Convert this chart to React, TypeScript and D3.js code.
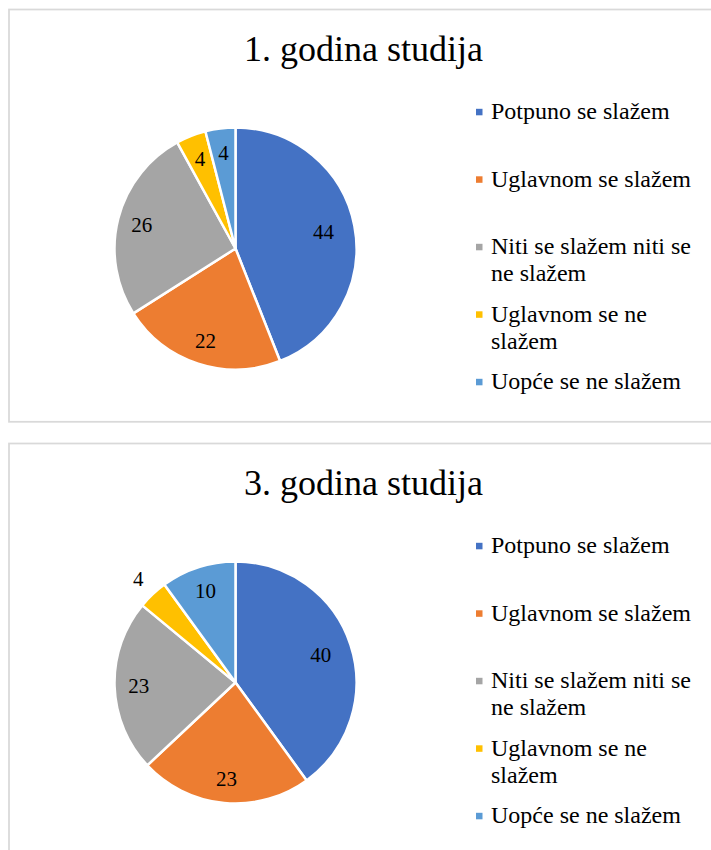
import * as d3 from "d3";

// values
const categories = [
  "Potpuno se slažem",
  "Uglavnom se slažem",
  "Niti se slažem niti se ne slažem",
  "Uglavnom se ne slažem",
  "Uopće se ne slažem",
];
const legendLines = [
  ["Potpuno se slažem"],
  ["Uglavnom se slažem"],
  ["Niti se slažem niti se", "ne slažem"],
  ["Uglavnom se ne", "slažem"],
  ["Uopće se ne slažem"],
];
const colors = ["#4472C4", "#ED7D31", "#A5A5A5", "#FFC000", "#5B9BD5"];
const titles = ["1. godina studija", "3. godina studija"];
const year1Values = [44, 22, 26, 4, 4];
const year3Values = [40, 23, 23, 4, 10];

const W = 711;
const H = 850;
const font = "Liberation Serif, DejaVu Serif, Times New Roman, serif";

const panelTop = 9.5;
const panelStep = 433.2;
const radius = 121;

function PiePanel({ title, values, offsetY, outside }) {
  const cx = 235.5;
  const cy = 248.5;
  const pie = d3.pie().sort(null).value(d => d)(values);
  const arc = d3.arc().innerRadius(0).outerRadius(radius);
  // big slices get their label a bit further in, like Excel's best fit
  const labelR = d => (d.endAngle - d.startAngle > 2.4 ? radius * 0.74 : radius * 0.8);
  const outR = radius + 21;

  const slot = 67.5;
  const firstBaseline = 119.3;
  const lineH = 27;

  return (
    <g transform={`translate(0, ${offsetY})`}>
      <rect x={9} y={panelTop} width={760} height={412.3} fill="#fff" stroke="#D9D9D9" strokeWidth={1.75} />
      <text x={363.5} y={61} textAnchor="middle" style={{ fontFamily: font, fontSize: 36 }} fill="#000">{title}</text>
      <g transform={`translate(${cx}, ${cy})`}>
        {pie.map((p, i) => (
          <path key={i} d={arc(p)} fill={colors[i]} stroke="#fff" strokeWidth={2.5} strokeLinejoin="round" />
        ))}
        {pie.map((p, i) => {
          const r = outside.includes(i) ? outR : labelR(p);
          const [x, y] = d3.arc().innerRadius(r).outerRadius(r).centroid(p);
          return (
            <text key={"l" + i} x={x} y={y} dy="0.35em" textAnchor="middle" style={{ fontFamily: font, fontSize: 21 }} fill="#000">
              {p.data}
            </text>
          );
        })}
      </g>
      <g>
        {categories.map((c, i) => {
          const b = firstBaseline + i * slot;
          return (
            <g key={c}>
              <rect x={476} y={b - 10.5} width={6.5} height={6.5} fill={colors[i]} />
              <text x={491} y={b} style={{ fontFamily: font, fontSize: 24 }} fill="#000">
                {legendLines[i].map((ln, j) => (
                  <tspan key={j} x={491} y={b + j * lineH}>{ln}</tspan>
                ))}
              </text>
            </g>
          );
        })}
      </g>
    </g>
  );
}

export default function App() {
  return (
    <svg width={W} height={H} style={{ position: "absolute", left: 0, top: 0, background: "#fff" }}>
      <rect width={W} height={H} fill="#fff" />
      <PiePanel title={titles[0]} values={year1Values} offsetY={0} outside={[]} />
      <PiePanel title={titles[1]} values={year3Values} offsetY={panelStep + 0.8} outside={[3]} />
    </svg>
  );
}
